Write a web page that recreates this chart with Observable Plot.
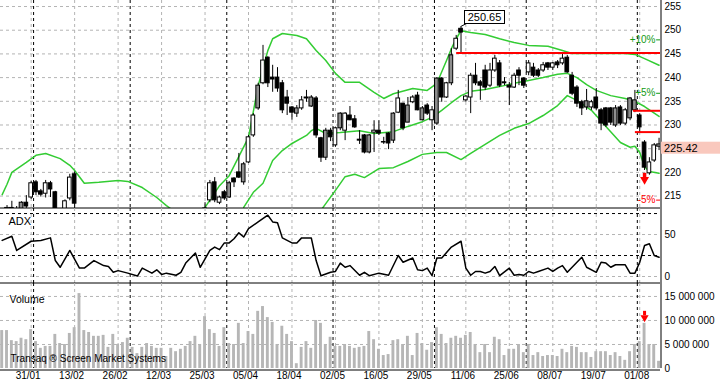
<!DOCTYPE html>
<html><head><meta charset="utf-8">
<script src="https://cdn.jsdelivr.net/npm/d3@7"></script>
<script src="https://cdn.jsdelivr.net/npm/@observablehq/plot@0.6"></script>
<style>
body{margin:0;background:#fff;}
#chart{width:720px;height:384px;overflow:hidden;background:#fff;}
#chart svg{display:block;}
</style></head><body><div id="chart"></div>
<script>
// ---------- DATA (bar index j: 0 = 23/01 ... 136 = 06/08) ----------
const tickIdx = [6, 15, 24, 33, 42, 51, 60, 69, 78, 87, 96, 105, 114, 123, 132];
const tickLabels = ["31/01","13/02","26/02","12/03","25/03","05/04","18/04","02/05","16/05","29/05","11/06","25/06","08/07","19/07","01/08"];
const monthStart = [7, 27, 47, 69, 90, 109, 132];
const priceTicks = [215, 220, 225, 230, 235, 240, 245, 250, 255];

const openP = [null,
 212.0,212.5,212.2,212.0,213.6,214.7,217.9,216.0,215.5,217.7,215.8,211.0,212.0,214.5,219.6,
 ...Array(26).fill(null),
 212.0,214.1,217.9,213.6,215.8,214.7,218.7,220.0,217.9,222.1,
 227.8,233.5,238.8,244.2,240.0,240.0,238.8,235.8,233.7,232.4,
 233.5,235.8,235.8,235.6,227.2,223.1,228.8,225.7,229.3,228.8,
 232.0,231.2,226.9,227.8,224.2,228.4,228.8,226.4,228.2,226.7,
 232.6,234.5,230.5,234.8,236.2,231.0,234.1,231.0,230.3,239.8,
 235.8,238.8,246.1,250.3,235.2,235.8,240.4,239.0,241.5,238.3,
 241.5,243.0,239.0,238.3,237.9,241.5,239.8,241.1,242.1,241.5,
 241.5,243.0,242.1,243.2,243.0,244.2,240.4,237.9,234.8,233.7,
 233.7,235.8,233.1,233.5,233.5,229.9,233.7,230.3,231.4,233.1,
 232.0,226.3,219.8,222.5,225.9];
const highP = [null,
 213.0,213.9,212.8,213.8,215.1,218.1,218.3,216.4,218.3,218.1,216.0,211.8,214.2,219.6,220.1,
 ...Array(26).fill(null),
 213.6,218.3,218.9,215.0,216.2,218.1,218.9,224.0,222.1,227.8,
 232.4,238.8,246.8,244.4,242.6,242.1,239.4,237.3,233.9,234.1,
 236.0,237.3,236.2,236.0,227.4,229.3,229.3,229.5,232.6,232.6,
 233.9,232.0,228.8,228.0,228.0,230.9,230.9,227.4,228.4,232.6,
 237.3,234.6,235.8,236.2,236.9,233.9,234.5,233.9,240.0,240.0,
 239.0,246.1,248.9,250.65,236.2,240.9,243.0,239.4,242.6,243.0,
 244.7,243.6,240.0,239.0,240.9,242.1,240.0,243.6,243.0,241.9,
 243.2,243.2,243.2,243.6,245.1,244.7,241.1,238.3,235.2,237.5,
 235.2,237.7,233.5,233.7,233.7,234.1,234.1,233.5,235.8,237.3,
 232.4,226.7,223.1,226.1,227.2];
const lowP = [null,
 211.0,211.6,211.2,211.5,212.4,214.3,215.1,214.8,214.6,214.7,210.0,209.5,211.5,214.0,212.3,
 ...Array(26).fill(null),
 211.0,213.6,213.6,213.2,214.1,214.5,216.8,218.7,217.3,221.9,
 227.4,233.1,238.5,237.9,236.9,236.9,232.4,232.0,231.0,231.6,
 233.1,234.8,233.7,227.2,222.1,222.5,226.5,225.3,228.8,226.7,
 230.9,229.3,225.9,223.9,223.9,224.2,227.8,225.9,224.8,226.1,
 232.4,228.8,230.5,234.5,233.0,230.9,232.0,228.8,229.9,234.8,
 235.6,238.3,245.7,245.3,234.8,232.4,238.3,235.2,237.3,237.9,
 241.1,237.9,238.3,234.1,237.7,238.3,237.7,240.4,240.0,240.0,
 241.1,241.5,241.5,241.9,242.6,240.9,236.2,233.7,232.0,233.1,
 233.1,233.1,228.8,229.5,229.9,229.5,229.9,229.9,230.9,232.6,
 228.4,220.4,219.4,222.1,224.6];
const closeP = [null,
 212.5,212.2,212.0,213.6,212.8,217.7,215.8,215.3,217.7,216.4,211.0,210.5,213.9,218.9,213.4,
 ...Array(26).fill(null),
 212.4,217.7,214.1,214.7,214.5,217.7,217.9,218.9,221.7,227.4,
 232.0,238.3,243.6,238.8,239.6,237.7,233.1,234.5,232.6,233.5,
 235.2,235.6,233.9,227.8,223.1,228.8,227.4,229.3,232.4,232.4,
 231.0,229.5,226.7,224.2,227.8,228.8,228.2,226.3,226.1,232.4,
 235.6,229.3,234.1,235.8,233.1,233.5,232.4,233.1,239.8,235.8,
 238.8,244.7,248.2,249.5,236.0,240.4,238.8,238.3,237.9,241.5,
 244.0,238.3,238.8,237.9,240.4,240.4,238.3,243.0,240.4,240.4,
 242.6,242.1,243.0,242.6,244.0,241.1,236.6,234.5,233.5,235.0,
 234.8,233.5,230.3,229.9,230.5,233.5,230.3,233.1,235.6,235.2,
 229.5,221.0,222.1,225.7,225.42];
// body style: w = white, b = black, g = grey, - = none
const bodyKind = ("-" + "wbbgbwbbwbbbwwb" + "--------------------------" +
  "wwbwbgbbgw" + "wgwbbbbbbg" + "wbgbbgbwgw" + "bbbbgwbbbg" + "wbgwbgbwgb" +
  "wgwbwwbbbw" + "wbbbwbbwbb" + "wbwbwbbbbg" + "wbbbbgbwgg" + "bbwwg").split("");

const upperIdx = [0,1,2,5,7,9,12,14,15,17,20,24,26,29,32,34,36,41,42,45,47,51,53,55,56,58,61,63,65,67,69,71,74,77,79,81,85,88,90,92,93,94,95,97,100,103,106,109,113,116,118,124,129,131,133,136];
const upperVal = [215.3,217.5,220.0,222.1,223.6,224.0,222.9,221.5,220.4,217.7,217.9,218.3,218.1,216.8,214.7,213.0,211.5,210.9,212.6,217.2,219.3,227.4,238.3,245.7,248.2,249.3,248.9,248.2,245.7,243.6,240.9,239.0,239.0,236.9,235.6,236.6,237.7,237.3,238.8,243.6,246.1,248.2,249.9,249.5,249.1,248.2,247.4,246.8,246.6,245.7,245.1,245.1,245.1,244.9,244.0,242.6];
const middleIdx = [50,52,54,56,58,60,63,64,65,67,70,74,77,81,84,87,89,91,93,95,97,100,103,106,109,112,115,117,119,121,123,126,129,131,133,136];
const middleVal = [212.6,215.8,217.7,222.5,224.6,226.1,227.8,228.8,229.3,228.2,228.4,228.8,228.2,228.6,229.7,230.7,231.6,233.1,234.7,236.2,237.1,237.5,238.1,238.8,239.4,240.0,240.7,240.9,240.0,238.5,237.3,236.2,235.6,235.0,233.9,231.8];
const lowerIdx = [66,67,69,71,73,75,78,81,84,87,90,92,95,97,100,103,106,109,112,115,117,119,122,125,128,130,131,132,133,134,136];
const lowerVal = [212.0,213.4,216.2,219.1,219.6,218.9,220.8,221.0,222.3,223.8,224.2,224.2,222.7,224.0,225.9,227.8,229.3,230.3,232.0,234.1,236.2,235.2,233.1,229.7,226.3,225.3,225.5,224.2,221.2,220.2,219.8];

const redLevel = [245.2, 233.0, 228.5];
const redFrom = [94.1, 130.7, 131.1];
const pctLevels = [10, 5, -5];
const peakIdx = 95, peakValue = 250.65;
const arrowIdx = 133;
const priceArrow = [219.8, 218.9, 218.5];   // shaft top, shaft bottom, head centre
const volArrow = [11.9, 11.0, 10.6];        // millions

const adxIdx = [0,2,3,6,8,10,11,12,14,16,17,19,21,22,23,24,26,28,29,31,32,33,34,36,37,38,40,41,43,44,45,46,47,48,49,50,51,53,55,56,57,58,60,61,62,64,65,66,68,69,70,71,72,74,75,76,78,80,82,83,85,86,87,88,89,90,91,93,95,96,97,98,99,100,101,102,103,105,106,107,108,109,110,111,113,114,115,116,117,120,121,123,124,125,126,127,129,130,131,132,133,134,135,136];
const adxVal = [43,48,31,42,43,46,19,11,31,10,10,19,13,12,5,7,4,0.5,10,4,8,2.5,4,1.5,5,16,28,11,31,35,32,40,40,45,52,47,57,65,73,65,64,46,40,40,46,46,19,1,5,6,16,11,13,1.5,5,1,4,1.5,25,17,22,8,7,10,1,22,22,35,42,10,1.5,6,6,4,6,12,1,10,1.5,2.5,1.5,6,4,6,10,6,10,13,5,23,11,5,17,16,11,14,14,4,4,17,37,39,25,23];
const adxTicks = [0, 50];
const adxDarkLines = [25, 75];

const volumeM = [7.9,7.9,5.8,5.6,6.3,6.0,8.1,5.6,4.2,4.6,
 4.6,7.1,5.2,5.0,7.3,8.5,15.6,7.9,7.5,6.7,
 6.7,6.9,4.4,7.1,5.0,5.4,6.3,4.4,3.1,4.4,
 5.2,4.6,4.2,4.2,2.5,4.2,3.5,4.0,4.6,5.6,
 6.7,5.0,10.8,8.1,7.3,4.6,8.5,5.2,5.0,9.4,
 5.2,7.7,7.1,11.9,12.9,10.6,9.6,5.0,8.8,7.1,
 5.6,1.0,4.4,5.6,4.2,10.0,9.4,5.0,6.5,4.6,
 4.6,5.0,4.6,4.2,4.4,4.6,7.7,6.0,4.0,2.7,
 2.9,5.8,6.0,5.0,6.7,2.7,7.3,5.2,3.8,5.4,
 8.5,7.1,5.2,6.3,6.7,6.3,6.9,7.5,5.0,3.3,
 5.0,3.3,6.5,6.0,2.7,4.0,4.0,5.0,3.3,5.0,
 2.7,3.3,2.5,2.7,2.7,2.5,4.0,3.3,4.6,4.4,
 3.3,3.3,2.3,3.5,3.5,3.5,2.7,3.3,2.5,1.7,
 3.5,5.0,5.6,9.4,5.0,5.0,1.5];
const volTicks = [0, 5e6, 10e6, 15e6];

// ---------- CHART ----------
const W = 720, MR = 60;
const xDomain = [-0.35, 136.3];
const FONT = "'Liberation Sans', Arial, sans-serif";
const GRID = "#b4b4b4";
const GREEN = "#33cc33";
const style = {fontFamily: FONT, fontSize: "10px", background: "transparent", overflow: "visible", color: "#000"};

const candles = openP.map((o, j) => ({j, o, h: highP[j], l: lowP[j], c: closeP[j], k: bodyKind[j]})).filter(d => d.o != null);
const bodyFill = {w: "#ffffff", b: "#000000", g: "#8e8e8e"};
const pairs = (idx, val) => idx.map((j, i) => ({j, v: val[i]}));
const lastClose = closeP[closeP.length - 1];
const pct = pctLevels.map(p => ({p, v: lastClose * (1 + p / 100), label: (p > 0 ? "+" : "") + p + "%"}));
const reds = redLevel.map((v, i) => ({v, from: redFrom[i]}));
// the last-price label covers the axis tick it sits on
const axisPriceTicks = priceTicks.filter(t => Math.abs(t - lastClose) > 1.5);

function vgrid() {
  return [
    Plot.ruleX(tickIdx, {stroke: GRID, strokeDasharray: "3,3"}),
    Plot.ruleX(monthStart, {x: d => d - 0.5, stroke: "#000", strokeDasharray: "3,3"})
  ];
}

const priceDomain = [212.38, 256.27];
const price = Plot.plot({
  width: W, height: 208, marginTop: 0, marginBottom: 0, marginLeft: 0, marginRight: MR,
  style,
  x: {domain: xDomain, axis: null},
  y: {domain: priceDomain},
  marks: [
    Plot.ruleY(priceTicks, {stroke: GRID, strokeDasharray: "3,3"}),
    ...vgrid(),
    Plot.line(pairs(upperIdx, upperVal), {x: "j", y: "v", stroke: GREEN, clip: true}),
    Plot.line(pairs(middleIdx, middleVal), {x: "j", y: "v", stroke: GREEN, clip: true}),
    Plot.line(pairs(lowerIdx, lowerVal), {x: "j", y: "v", stroke: GREEN, clip: true}),
    Plot.ruleX(candles, {x: "j", y1: "l", y2: "h", stroke: "#000", clip: true}),
    Plot.rect(candles, {x1: d => d.j - 0.38, x2: d => d.j + 0.38, y1: "o", y2: "c", fill: d => bodyFill[d.k], stroke: "#000", clip: true}),
    Plot.ruleY(reds, {y: "v", x1: "from", x2: xDomain[1], stroke: "#ff0000", strokeWidth: 2}),
    Plot.ruleX([arrowIdx], {x: d => d, y1: priceArrow[0], y2: priceArrow[1], stroke: "#ff0000", strokeWidth: 3.5}),
    Plot.dot([arrowIdx], {x: d => d, y: priceArrow[2], symbol: "triangle", rotate: 180, r: 3.3, fill: "#ff0000", stroke: "none"}),
    Plot.text(pct, {x: xDomain[1], y: "v", text: "label", textAnchor: "end", dx: -5, fill: d => d.p > 0 ? "#129a12" : "#ff0000"}),
    Plot.ruleY(pct, {y: "v", x1: xDomain[1] - 0.8, x2: xDomain[1], stroke: d => d.p > 0 ? "#129a12" : "#ff0000"}),
    Plot.ruleX([xDomain[1]], {dx: 0.5, stroke: "#000"}),
    Plot.ruleY([priceDomain[0]], {dy: -0.5, stroke: "#000"}),
    Plot.axisY(axisPriceTicks, {anchor: "right", tickSize: 0, tickPadding: 4, label: null})
  ]
});

const adxDomain = [-8.33, 81.0];
const adx = Plot.plot({
  width: W, height: 75, marginTop: 0, marginBottom: 0, marginLeft: 0, marginRight: MR,
  style,
  x: {domain: xDomain, axis: null},
  y: {domain: adxDomain},
  marks: [
    Plot.ruleY(adxTicks, {stroke: GRID, strokeDasharray: "3,3"}),
    Plot.ruleY(adxDarkLines, {stroke: "#000", strokeDasharray: "3,3"}),
    ...vgrid(),
    Plot.line(pairs(adxIdx, adxVal), {x: "j", y: "v", stroke: "#000"}),
    Plot.text(["ADX"], {frameAnchor: "top-left", dx: 8, dy: 9, textAnchor: "start", fontSize: 11}),
    Plot.ruleX([xDomain[1]], {dx: 0.5, stroke: "#000"}),
    Plot.ruleY([adxDomain[0]], {dy: -0.5, stroke: "#000"}),
    Plot.axisY(adxTicks, {anchor: "right", tickSize: 0, tickPadding: 4, label: null})
  ]
});

const fmtVol = d3.formatLocale({decimal: ".", thousands: " ", grouping: [3], currency: ["", ""]}).format(",");
const vols = volumeM.map((v, j) => ({j, v: v * 1e6}));
const volume = Plot.plot({
  width: W, height: 101, marginTop: 0, marginBottom: 16, marginLeft: 0, marginRight: MR,
  style,
  x: {domain: xDomain, axis: null},
  y: {domain: [0, 17.7e6]},
  marks: [
    Plot.ruleY(volTicks.slice(1), {stroke: GRID, strokeDasharray: "3,3"}),
    ...vgrid(),
    Plot.rect(vols, {x1: d => d.j - 0.3, x2: d => d.j + 0.3, y1: 0, y2: "v", fill: "#b6b6b6"}),
    Plot.ruleX([arrowIdx], {x: d => d, y1: volArrow[0] * 1e6, y2: volArrow[1] * 1e6, stroke: "#ff0000", strokeWidth: 3}),
    Plot.dot([arrowIdx], {x: d => d, y: volArrow[2] * 1e6, symbol: "triangle", rotate: 180, r: 3, fill: "#ff0000", stroke: "none"}),
    Plot.text(["Volume"], {frameAnchor: "top-left", dx: 9, dy: 12, textAnchor: "start", fontSize: 10.5}),
    Plot.text(["Transaq \u00AE Screen Market Systems"], {frameAnchor: "bottom-left", dx: 10, dy: -7, textAnchor: "start", fontSize: 10}),
    Plot.ruleX([xDomain[1]], {dx: 0.5, stroke: "#000"}),
    Plot.ruleY([0], {dy: 1.5, stroke: "#000"}),
    Plot.axisY(volTicks, {anchor: "right", tickSize: 0, tickPadding: 4, label: null, tickFormat: fmtVol}),
    Plot.text(tickIdx, {x: d => d, text: (d, i) => tickLabels[i], frameAnchor: "bottom", dy: 10, dx: -3})
  ]
});

const root = document.getElementById("chart");
root.append(price, adx, volume);

// annotations positioned through the plot's own scales
const sx = price.scale("x"), sy = price.scale("y");
const ps = d3.select(price);
const px = sx.apply(peakIdx), py = sy.apply(peakValue);
const bx = Math.round(px + 3) + 0.5, by = Math.round(py - 4) + 0.5;
ps.append("line").attr("x1", px).attr("y1", py).attr("x2", bx + 2).attr("y2", by).attr("stroke", "#000");
ps.append("rect").attr("x", bx).attr("y", by - 13).attr("width", 40).attr("height", 13)
  .attr("fill", "#fff").attr("stroke", "#000");
ps.append("text").attr("x", bx + 20).attr("y", by - 6.5).attr("text-anchor", "middle")
  .attr("dominant-baseline", "central").attr("font-size", 11).attr("fill", "#000").text(peakValue.toFixed(2));

const ly = sy.apply(lastClose);
const edge = sx.apply(xDomain[1]) + 1;
ps.append("rect").attr("x", edge).attr("y", ly - 4.5).attr("width", W - edge).attr("height", 12).attr("fill", "#f9c8bd");
ps.append("text").attr("x", edge + 3).attr("y", ly + 1.5).attr("text-anchor", "start").attr("dominant-baseline", "central")
  .attr("font-size", 11).attr("fill", "#000").text(lastClose.toFixed(2));
</script></body></html>
